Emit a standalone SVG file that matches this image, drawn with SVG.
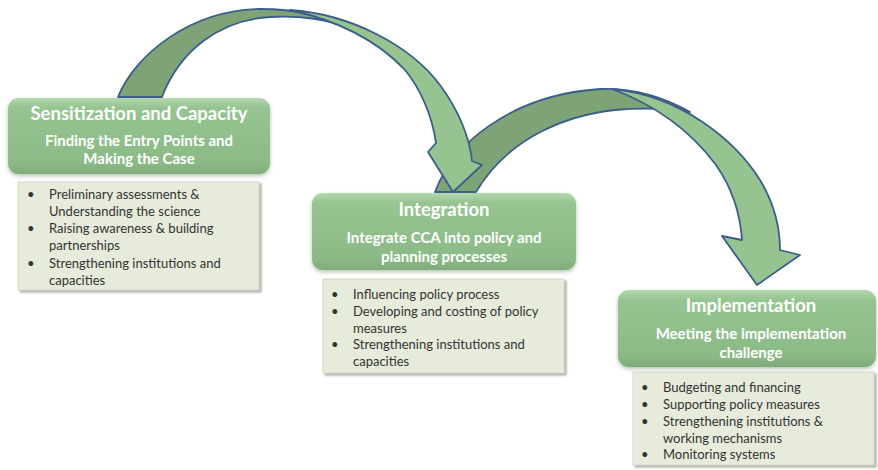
<svg xmlns="http://www.w3.org/2000/svg" width="878" height="470" viewBox="0 0 878 470">
  <defs>
    <linearGradient id="hdrFill" x1="0" y1="0" x2="0" y2="1">
      <stop offset="0" stop-color="#b4d8ae"/>
      <stop offset="0.12" stop-color="#97c592"/>
      <stop offset="0.85" stop-color="#8cba87"/>
      <stop offset="1" stop-color="#7eab79"/>
    </linearGradient>
    <filter id="hdrShadow" x="-5%" y="-10%" width="110%" height="130%">
      <feDropShadow dx="0" dy="2" stdDeviation="2" flood-color="#5f7a5c" flood-opacity="0.45"/>
    </filter>
    <filter id="bodyShadow" x="-5%" y="-5%" width="112%" height="115%">
      <feDropShadow dx="2" dy="2" stdDeviation="1.2" flood-color="#6f6f68" flood-opacity="0.6"/>
    </filter>
    <style>
      .hdr { fill: url(#hdrFill); filter: url(#hdrShadow); }
      .body { fill: #e7ebdb; stroke: #d3d8c6; stroke-width: 1; filter: url(#bodyShadow); }
      .title { font-family: Lato, "Open Sans", sans-serif; font-weight: bold; font-size: 18.5px; fill: #ffffff; text-anchor: middle; }
      .sub { font-family: Lato, "Open Sans", sans-serif; font-weight: bold; font-size: 15px; fill: #ffffff; text-anchor: middle; }
      .item { font-family: Lato, "Open Sans", sans-serif; font-size: 13px; fill: #333333; }
      .back { fill: #7da376; stroke: #3b5e8c; stroke-width: 1.8; stroke-linejoin: round; }
      .front { fill: #96c38f; stroke: #3b5e8c; stroke-width: 1.8; stroke-linejoin: round; }
    </style>
  </defs>

  <!-- curved arrows between the stages -->
  <g id="connectors">
    <g id="arrow-integration-to-implementation">
      <path class="back" d="M435,192 C452,145 510,95 600,89 C630,88 660,95 690,112 C665,108 640,108 615,110 C570,115 510,135 476,192 Z"/>
      <path class="front" d="M612,89 C680,95 735,140 760,180 C775,205 780,230 780,250 L800,255 L757,285 L722,236 L742,240 C740,210 730,185 716,165 C690,130 655,105 612,89 Z"/>
    </g>
    <g id="arrow-sensitization-to-integration">
      <path class="back" d="M118,97 C135,55 190,10 260,9 C295,9 325,15 350,28 C330,20 300,15 270,17 C220,20 180,50 162,97 Z"/>
      <path class="front" d="M290,10 C350,14 410,45 440,85 C460,112 470,140 472,161 L482,165 L453,192 L428,152 L436,143 C432,115 420,88 405,70 C375,38 335,20 290,10 Z"/>
    </g>
  </g>

  <!-- stage 1 -->
  <g id="node-sensitization">
    <rect class="hdr" x="8" y="98" width="262" height="76" rx="11"/>
    <text class="title" x="139" y="120">Sensitization and Capacity</text>
    <text class="sub" x="139" y="146">Finding the Entry Points and</text>
    <text class="sub" x="139" y="164">Making the Case</text>
    <rect class="body" x="18" y="182" width="241" height="108"/>
    <g class="item">
      <text x="27" y="199">•</text>
      <text x="49" y="199">Preliminary assessments  &amp;</text>
      <text x="49" y="216">Understanding the science</text>
      <text x="27" y="233">•</text>
      <text x="49" y="233">Raising awareness &amp; building</text>
      <text x="49" y="250">partnerships</text>
      <text x="27" y="268">•</text>
      <text x="49" y="268">Strengthening institutions and</text>
      <text x="49" y="285">capacities</text>
    </g>
  </g>

  <!-- stage 2 -->
  <g id="node-integration">
    <rect class="hdr" x="312" y="193" width="264" height="77" rx="11"/>
    <text class="title" x="444" y="216">Integration</text>
    <text class="sub" x="444" y="243">Integrate CCA into policy and</text>
    <text class="sub" x="444" y="262">planning processes</text>
    <rect class="body" x="323" y="279" width="241" height="94"/>
    <g class="item">
      <text x="331" y="299">•</text>
      <text x="353" y="299">Influencing policy process</text>
      <text x="331" y="316">•</text>
      <text x="353" y="316">Developing and costing of policy</text>
      <text x="353" y="333">measures</text>
      <text x="331" y="349">•</text>
      <text x="353" y="349">Strengthening institutions and</text>
      <text x="353" y="366">capacities</text>
    </g>
  </g>

  <!-- stage 3 -->
  <g id="node-implementation">
    <rect class="hdr" x="618" y="290" width="258" height="77" rx="11"/>
    <text class="title" x="751" y="312">Implementation</text>
    <text class="sub" x="751" y="339">Meeting the implementation</text>
    <text class="sub" x="751" y="358">challenge</text>
    <rect class="body" x="633" y="372" width="241" height="93"/>
    <g class="item">
      <text x="641" y="392">•</text>
      <text x="663" y="392">Budgeting and financing</text>
      <text x="641" y="409">•</text>
      <text x="663" y="409">Supporting policy measures</text>
      <text x="641" y="426">•</text>
      <text x="663" y="426">Strengthening institutions &amp;</text>
      <text x="663" y="443">working mechanisms</text>
      <text x="641" y="459">•</text>
      <text x="663" y="459">Monitoring systems</text>
    </g>
  </g>
</svg>
